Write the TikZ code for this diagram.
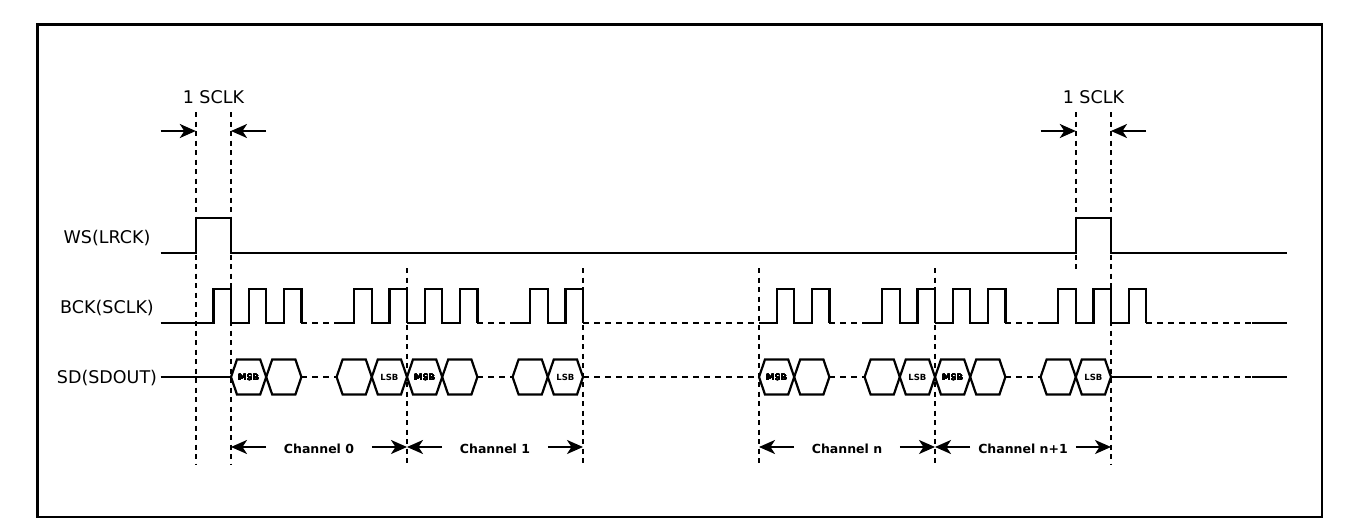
\documentclass[tikz,border=0pt]{standalone}
\usepackage{fontspec}
\setmainfont{DejaVu Sans}
\usetikzlibrary{calc,positioning,arrows.meta}
\definecolor{wire}{RGB}{0,0,0}

\tikzset{
  sig/.style={draw=wire, line width=2.2pt, line join=miter},
  gap/.style={draw=wire, line width=2.2pt, dash pattern=on 6pt off 5pt},
  guide/.style={draw=wire, line width=1.8pt, dash pattern=on 5pt off 4.5pt},
  dim/.style={draw=wire, line width=2pt, -{Stealth[length=16pt, width=14pt, inset=4.5pt]}},
  bitlbl/.style={font=\bfseries\fontsize{8.5}{9}\selectfont, inner sep=0pt},
  chlbl/.style={font=\bfseries\fontsize{12.5}{14}\selectfont, inner sep=0pt},
  siglbl/.style={font=\fontsize{17.5}{20}\selectfont, inner sep=0pt},
}
\newcommand\bitbox[1]{% hexagon of one bit, two half periods wide
  \draw[sig] (#1,377) -- (#1+0.34,359.5) -- (#1+1.66,359.5) -- (#1+2,377)
    -- (#1+1.66,394.5) -- (#1+0.34,394.5) -- cycle;}

\begin{document}
\begin{tikzpicture}[x=1pt, y=-1pt]
  \useasboundingbox (0,0) rectangle (1360,527);
  \draw[draw=wire, line width=2.2pt] (37.5,24.5) rectangle (1322,517);

  % signal names
  \node[siglbl] (ws) at (107,238) {WS(LRCK)};
  \node[siglbl] (bck) at (107,308) {BCK(SCLK)};
  \node[siglbl] (sd) at (107,378) {SD(SDOUT)};

  % time axis in half periods of the bit clock
  \begin{scope}[shift={(231,0)}, x=17.6pt]
    % guides
    \foreach \t in {-2,0,50} \draw[guide] (\t,112) -- (\t,465);
    \foreach \t in {10,20,30,40} \draw[guide] (\t,268) -- (\t,465);
    \draw[guide] (48,112) -- (48,272);

    % 1 SCLK marks
    \foreach \a/\nm in {-2/l, 48/r} {
      \node[siglbl] (sclk\nm) at (\a+1,97) {1 SCLK};
      \coordinate (sclk\nm a) at (\a-2,131);
      \coordinate (sclk\nm b) at (\a,131);
      \coordinate (sclk\nm c) at (\a+4,131);
      \coordinate (sclk\nm d) at (\a+2,131);
      \draw[dim] (sclk\nm a) -- (sclk\nm b);
      \draw[dim] (sclk\nm c) -- (sclk\nm d);
    }

    % WS
    \draw[sig] (-4,253) -- (-2,253) -- (-2,218) -- (0,218) -- (0,253)
      -- (48,253) -- (48,218) -- (50,218) -- (50,253) -- (60,253);

    % BCK
    \draw[sig] (-4,323) -- (-1,323) -- (-1,289) -- (0,289) -- (0,323);
    \foreach \a in {0,6,10,16,30,36,40,46}
      \draw[sig] (\a,323) -- (\a+1,323) -- (\a+1,289) -- (\a+2,289) -- (\a+2,323)
        -- (\a+3,323) -- (\a+3,289) -- (\a+4,289) -- (\a+4,323);
    \draw[sig] (50,323) -- (51,323) -- (51,289) -- (52,289) -- (52,323);
    \draw[sig] (58,323) -- (60,323);
    \foreach \a/\b in {4/6,14/16,20/30,34/36,44/46,52/58}
      \draw[gap] (\a,323) -- (\b,323);

    % SD
    \draw[sig] (-4,377) -- (0,377);
    \foreach \a in {0,2,6,8,10,12,16,18,30,32,36,38,40,42,46,48}
      \bitbox{\a}
    \foreach \a/\nm in {0/a,10/b,30/c,40/d}
      \node[bitlbl] (msb\nm) at (\a+1,377) {MSB};
    \foreach \a/\nm in {8/a,18/b,38/c,48/d}
      \node[bitlbl] (lsb\nm) at (\a+1,377) {LSB};
    \draw[sig] (50,377) -- (52,377);
    \draw[sig] (58,377) -- (60,377);
    \foreach \a/\b in {4/6,14/16,20/30,34/36,44/46,52/58}
      \draw[gap] (\a,377) -- (\b,377);

    % channels
    \foreach \a/\txt/\nm in {0/Channel 0/a, 10/Channel 1/b, 30/Channel n/c, 40/Channel n+1/d} {
      \node[chlbl] (ch\nm) at (\a+5,449) {\txt};
      \coordinate (ch\nm s) at (\a,447);
      \coordinate (ch\nm e) at (\a+10,447);
      \draw[dim] ($(ch\nm s)+(2,0)$) -- (ch\nm s);
      \draw[dim] ($(ch\nm e)-(2,0)$) -- (ch\nm e);
    }
  \end{scope}
\end{tikzpicture}
\end{document}
